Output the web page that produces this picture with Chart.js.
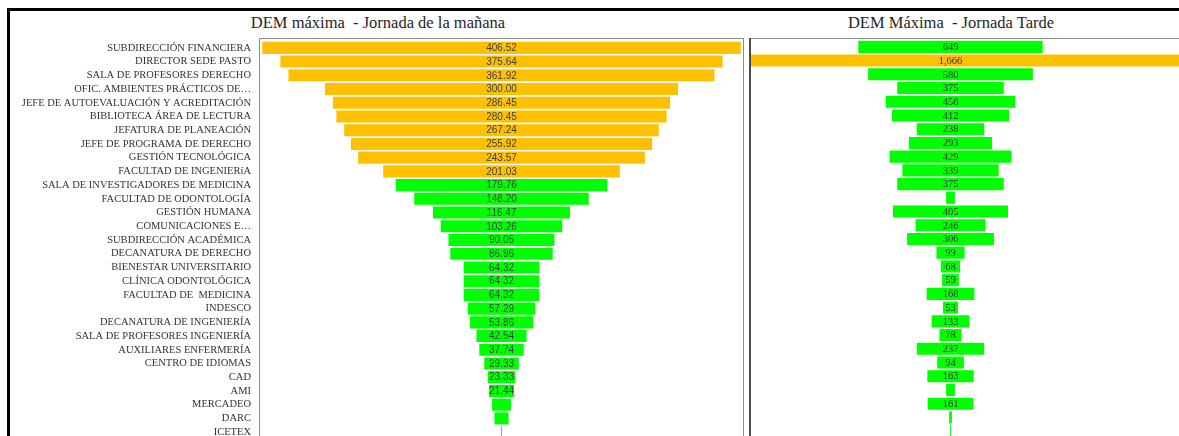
<!DOCTYPE html>
<html>
<head>
<meta charset="utf-8">
<script src="https://cdn.jsdelivr.net/npm/chart.js@4.4.1/dist/chart.umd.min.js"></script>
<style>
  html, body { margin: 0; padding: 0; background: #fff; width: 1179px; height: 436px; overflow: hidden; position: relative; }
  #frame { position: absolute; left: 7px; top: 8px; width: 1200px; height: 440px; border-top: 3px solid #000; border-left: 3px solid #000; }
  .panel-title { position: absolute; top: 14px; font-family: 'Liberation Serif', serif; font-size: 16.5px; color: #262626; white-space: pre; transform: translateX(-50%); line-height: 18px; }
  #morning-wrap { position: absolute; left: 10px; top: 31px; width: 736px; height: 415px; }
  #afternoon-wrap { position: absolute; left: 747px; top: 30px; width: 463px; height: 410px; }
</style>
</head>
<body>
<div id="frame"></div>
<div class="panel-title" style="left:378px">DEM máxima  - Jornada de la mañana</div>
<div class="panel-title" style="left:951px">DEM Máxima  - Jornada Tarde</div>
<div id="morning-wrap"><canvas id="morning"></canvas></div>
<div id="afternoon-wrap"><canvas id="afternoon"></canvas></div>
<script>
// Dependencias (mismo orden en ambas jornadas)
const areas = [
  'SUBDIRECCIÓN FINANCIERA',
  'DIRECTOR SEDE PASTO',
  'SALA DE PROFESORES DERECHO',
  'OFIC. AMBIENTES PRÁCTICOS DE…',
  'JEFE DE AUTOEVALUACIÓN Y ACREDITACIÓN',
  'BIBLIOTECA ÁREA DE LECTURA',
  'JEFATURA DE PLANEACIÓN',
  'JEFE DE PROGRAMA DE DERECHO',
  'GESTIÓN TECNOLÓGICA',
  'FACULTAD DE INGENIERíA',
  'SALA DE INVESTIGADORES DE MEDICINA',
  'FACULTAD DE ODONTOLOGÍA',
  'GESTIÓN HUMANA',
  'COMUNICACIONES E…',
  'SUBDIRECCIÓN ACADÉMICA',
  'DECANATURA DE DERECHO',
  'BIENESTAR UNIVERSITARIO',
  'CLÍNICA ODONTOLÓGICA',
  'FACULTAD DE  MEDICINA',
  'INDESCO',
  'DECANATURA DE INGENIERÍA',
  'SALA DE PROFESORES INGENIERÍA',
  'AUXILIARES ENFERMERÍA',
  'CENTRO DE IDIOMAS',
  'CAD',
  'AMI',
  'MERCADEO',
  'DARC',
  'ICETEX',
];

const demManana = [
  406.52, 375.64, 361.92, 300.00, 286.45, 280.45, 267.24, 255.92, 243.57, 201.03,
  179.76, 148.20, 116.47, 103.26, 90.05, 86.96, 64.32, 64.32, 64.32, 57.29,
  53.86, 42.54, 37.74, 29.33, 23.33, 21.44, 16, 12, 0.8,
];

const demTarde = [
  649, 1666, 580, 375, 456, 412, 238, 293, 429, 339,
  375, 31, 405, 246, 306, 99, 68, 59, 168, 53,
  133, 78, 237, 94, 163, 31, 161, 10, 3,
];

// umbral a partir del cual la barra se resalta
const LIMITE_MANANA = 200;
const LIMITE_TARDE = 1000;

const NARANJA = '#FFC000';
const VERDE = '#00FF00';

// barras flotantes centradas en cero -> embudo
const funnel = values => values.map(v => [-v / 2, v / 2]);

// etiqueta de valor en el centro de cada barra (solo si cabe)
const valueLabels = {
  id: 'valueLabels',
  afterDatasetsDraw(chart, args, opts) {
    const { ctx, chartArea } = chart;
    const meta = chart.getDatasetMeta(0);
    const values = opts.values;
    ctx.save();
    ctx.beginPath();
    ctx.rect(chartArea.left, chartArea.top, chartArea.right - chartArea.left, chartArea.bottom - chartArea.top);
    ctx.clip();
    ctx.font = opts.font;
    ctx.fillStyle = opts.color;
    ctx.textAlign = 'center';
    ctx.textBaseline = 'middle';
    meta.data.forEach((bar, i) => {
      const { x, y, base } = bar.getProps(['x', 'y', 'base'], true);
      const text = opts.format(values[i]);
      const w = Math.abs(x - base);
      if (ctx.measureText(text).width > w + 1) return;
      ctx.fillText(text, (x + base) / 2, y + 0.5);
    });
    ctx.restore();
  }
};

// marco del área de trazado
const plotFrame = {
  id: 'plotFrame',
  afterDatasetsDraw(chart, args, opts) {
    const { ctx, chartArea: a } = chart;
    const top = a.top - opts.lift;
    ctx.save();
    ctx.lineWidth = 1;
    ctx.strokeStyle = opts.color;
    ctx.beginPath();
    ctx.moveTo(a.left, top + 0.5);
    ctx.lineTo(a.right, top + 0.5);
    if (opts.right) {
      ctx.moveTo(a.right - 0.5, top);
      ctx.lineTo(a.right - 0.5, a.bottom + 10);
    }
    ctx.stroke();
    ctx.lineWidth = opts.leftWidth;
    ctx.strokeStyle = opts.leftColor;
    ctx.beginPath();
    ctx.moveTo(a.left + opts.leftWidth / 2, top);
    ctx.lineTo(a.left + opts.leftWidth / 2, a.bottom + 10);
    ctx.stroke();
    ctx.restore();
  }
};

new Chart(document.getElementById('morning'), {
  type: 'bar',
  data: {
    labels: areas,
    datasets: [{
      data: funnel(demManana),
      backgroundColor: demManana.map(v => v >= LIMITE_MANANA ? NARANJA : VERDE),
      borderWidth: 0,
      barPercentage: 0.88,
      categoryPercentage: 1,
    }],
  },
  options: {
    indexAxis: 'y',
    responsive: true,
    maintainAspectRatio: false,
    animation: false,
    layout: { padding: { top: 10, bottom: 7, right: 2, left: 0 } },
    plugins: {
      legend: { display: false },
      tooltip: { enabled: false },
      valueLabels: {
        values: demManana,
        font: "10px 'Liberation Sans', sans-serif",
        color: '#404040',
        format: v => v.toFixed(2),
      },
      plotFrame: { lift: 3, color: '#8c8c8c', right: true, leftWidth: 1, leftColor: '#8c8c8c' },
    },
    scales: {
      x: { display: false, min: -206, max: 206 },
      y: {
        afterFit: scale => { scale.width = 249; },
        // la separación etiqueta-eje va en tickLength para no reducir el alto del área
        grid: { display: false, drawTicks: true, tickLength: 8 },
        border: { display: false },
        ticks: {
          autoSkip: false,
          padding: 0,
          color: '#333',
          font: { family: "'Liberation Serif', serif", size: 10.5 },
        },
      },
    },
  },
  plugins: [valueLabels, plotFrame],
});

new Chart(document.getElementById('afternoon'), {
  type: 'bar',
  data: {
    labels: areas,
    datasets: [{
      data: funnel(demTarde),
      backgroundColor: demTarde.map(v => v >= LIMITE_TARDE ? NARANJA : VERDE),
      borderWidth: 0,
      barPercentage: 0.88,
      categoryPercentage: 1,
    }],
  },
  options: {
    indexAxis: 'y',
    responsive: true,
    maintainAspectRatio: false,
    animation: false,
    layout: { padding: { top: 10, bottom: 2, right: 0, left: 2 } },
    plugins: {
      legend: { display: false },
      tooltip: { enabled: false },
      valueLabels: {
        values: demTarde,
        font: "10.5px 'Liberation Serif', serif",
        color: '#333',
        format: v => v.toLocaleString('en-US'),
      },
      plotFrame: { lift: 2, color: '#8c8c8c', right: false, leftWidth: 2, leftColor: '#4d4d4d' },
    },
    scales: {
      x: { display: false, min: -709.5, max: 913.7 },
      y: { display: false },
    },
  },
  plugins: [valueLabels, plotFrame],
});
</script>
</body>
</html>
